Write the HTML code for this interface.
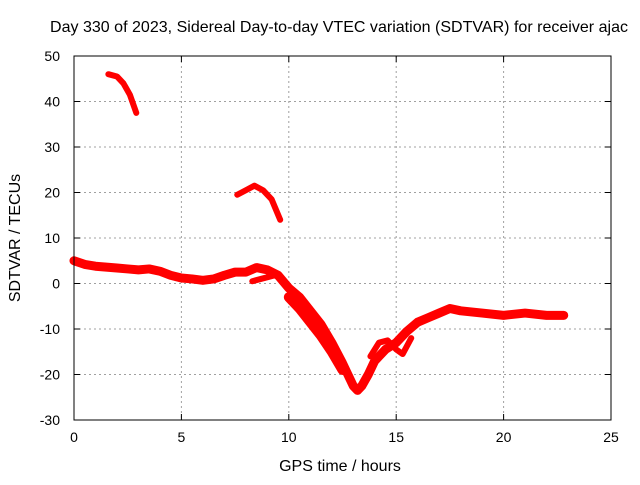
<!DOCTYPE html>
<html><head><meta charset="utf-8"><style>
body{margin:0;background:#fff;width:640px;height:480px;overflow:hidden}
text{font-family:"Liberation Sans",sans-serif;font-size:14px;fill:#000}
.big{font-size:16px}
</style></head><body>
<svg width="640" height="480">
<g id="grid"></g><g id="series"></g><g id="axes"></g>
</svg>
<script>
const xTicks=[0,5,10,15,20,25];
const yTicks=[-30,-20,-10,0,10,20,30,40,50];
const mainX=[0,0.5,1,1.5,2,2.5,3,3.5,4,4.5,5,5.5,6,6.5,7,7.5,8,8.5,9,9.5,10,10.5,11,11.5,12,12.5,12.8,13,13.2,13.4,13.7,14,14.5,15,15.5,16,16.5,17,17.5,18,19,20,21,22,22.8];
const mainY=[5,4.2,3.8,3.6,3.4,3.2,3,3.2,2.7,1.8,1.2,1,0.7,1,1.8,2.5,2.5,3.5,3,1.8,-1,-3,-6,-9,-13,-17.5,-20.5,-22.5,-23.5,-22.5,-20,-17,-14.5,-13,-10.5,-8.5,-7.5,-6.5,-5.5,-6,-6.5,-7,-6.5,-7,-7];
const arc1X=[1.6,2,2.3,2.6,2.9];
const arc1Y=[46,45.5,44,41.5,37.5];
const arc2X=[7.6,8,8.4,8.8,9.2,9.6];
const arc2Y=[19.5,20.5,21.5,20.5,18.5,14];
const loop1X=[8.3,8.7,9.1,9.5];
const loop1Y=[0.5,1,1.5,2];
const loop2X=[13.8,14.2,14.6,15,15.3,15.7];
const loop2Y=[-16,-13,-12.5,-14.5,-15.5,-12];
const bandX=[10,10.5,11,11.5,12,12.5];
const bandY=[-3,-5.5,-8.5,-11.5,-15,-19];
const L=74,R=611,T=56,B=420;
const sx=v=>L+(v-0)/25*(R-L);
const sy=v=>B-(v+30)/80*(B-T);
const NS="http://www.w3.org/2000/svg";
function mk(t,a,p){const e=document.createElementNS(NS,t);for(const k in a)e.setAttribute(k,a[k]);p.appendChild(e);return e;}
const g=document.getElementById('grid'),ax=document.getElementById('axes'),s=document.getElementById('series');
xTicks.forEach(v=>{
 if(v>0&&v<25){const l=mk('line',{x1:sx(v),x2:sx(v),y1:T,y2:B,stroke:'#a0a0a0','stroke-dasharray':'2,3'},g);
 
 }
 const t=mk('text',{x:sx(v),y:442,'text-anchor':'middle'},ax);t.textContent=v;
 
 
 mk('line',{x1:sx(v),x2:sx(v),y1:B,y2:B-6,stroke:'#000'},ax);
 mk('line',{x1:sx(v),x2:sx(v),y1:T,y2:T+6,stroke:'#000'},ax);
});
yTicks.forEach(v=>{
 if(v>-30&&v<50){const l=mk('line',{x1:L,x2:R,y1:sy(v),y2:sy(v),stroke:'#a0a0a0','stroke-dasharray':'2,3'},g);
 
 }
 const t=mk('text',{x:L-14,y:sy(v)+5,'text-anchor':'end'},ax);t.textContent=v;
 
 
 mk('line',{x1:L,x2:L+6,y1:sy(v),y2:sy(v),stroke:'#000'},ax);
 mk('line',{x1:R,x2:R-6,y1:sy(v),y2:sy(v),stroke:'#000'},ax);
});
const fr=mk('rect',{x:L,y:T,width:R-L,height:B-T,fill:'none',stroke:'#000'},ax);


function series(X,Y,w,name){
 const pts=X.map((x,i)=>sx(x)+','+sy(Y[i])).join(' ');
 const p=mk('polyline',{points:pts,fill:'none',stroke:'#ff0000','stroke-width':w,'stroke-linejoin':'round','stroke-linecap':'round'},s);
 
 
}
series(mainX,mainY,9,'sdtvar-main-series');
series(bandX,bandY,10,'sdtvar-band-series');
series(arc1X,arc1Y,6,'sdtvar-arc-1');
series(arc2X,arc2Y,6,'sdtvar-arc-2');
series(loop1X,loop1Y,6,'sdtvar-loop-1');
series(loop2X,loop2Y,6,'sdtvar-loop-2');
</script>
<svg style="position:absolute;left:0;top:0" width="640" height="480">
<text class="big" x="339" y="32" text-anchor="middle" textLength="578">Day 330 of 2023, Sidereal Day-to-day VTEC variation (SDTVAR) for receiver ajac</text>
<text class="big" x="340" y="471" text-anchor="middle">GPS time / hours</text>
<text class="big" x="0" y="0" transform="translate(20,238) rotate(-90)" text-anchor="middle">SDTVAR / TECUs</text>
</svg>
</body></html>
